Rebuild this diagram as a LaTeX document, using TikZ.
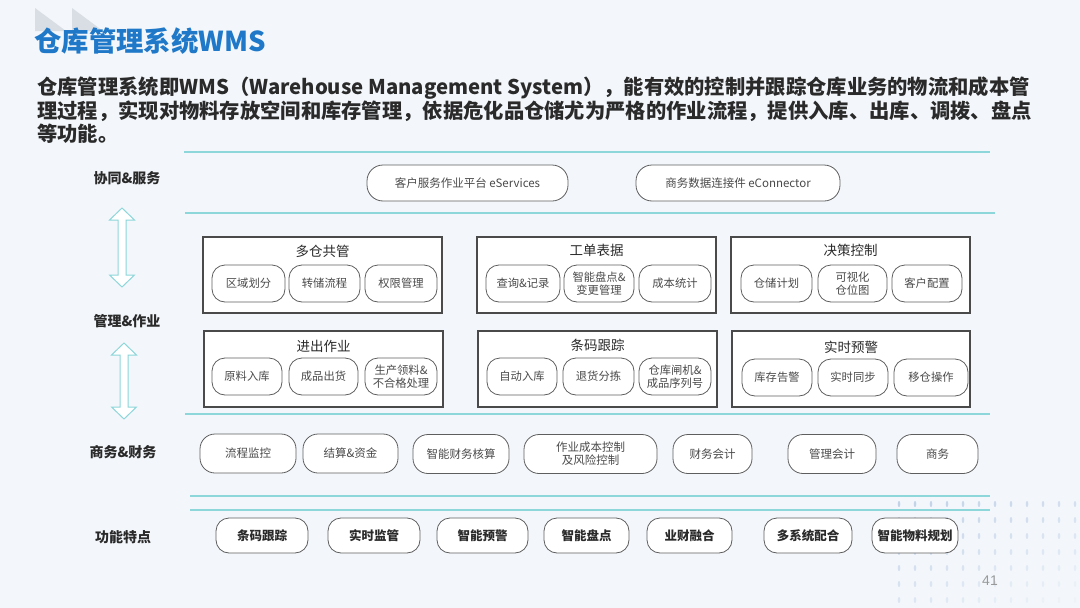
\documentclass[tikz,border=0pt]{standalone}
\usepackage{fontspec}
\setmainfont{Noto Sans CJK SC}
\newfontfamily\latinsans{Liberation Sans}
\definecolor{bgc}{HTML}{F3F7FB}
\definecolor{teal}{HTML}{8DD6DA}
\definecolor{titleblue}{HTML}{1F78C8}
\definecolor{boxline}{HTML}{4A4A4A}
\definecolor{pillline}{HTML}{5E5E5E}
\definecolor{txt}{HTML}{4A4A4A}
\definecolor{dark}{HTML}{2A2A2A}
\definecolor{deco}{HTML}{D9DEE4}
\definecolor{dotc}{HTML}{9DB6DA}
\begin{document}
\begin{tikzpicture}[x=1pt,y=-1pt,
  pill/.style={draw=pillline, line width=0.8pt, fill=white, rounded corners=13pt,
     minimum height=37pt, inner sep=1pt, align=center, text=txt,
     font=\fontsize{11.3}{12.8}\selectfont},
  bigpill/.style={pill, minimum height=39pt, rounded corners=15pt, font=\fontsize{11.5}{13}\selectfont},
  featpill/.style={pill, minimum height=35pt, rounded corners=13pt, text=dark,
     font=\fontsize{12.5}{14}\selectfont\bfseries},
  toppill/.style={pill, minimum height=36pt, rounded corners=16pt, font=\fontsize{11.5}{13}\selectfont},
  group/.style={draw=boxline, line width=1.1pt, fill=white, minimum height=76pt, minimum width=239pt, inner sep=0pt},
  gtitle/.style={text=dark, font=\fontsize{13.5}{15}\selectfont},
  side/.style={text=dark, font=\fontsize{14}{16}\selectfont\bfseries},
  sep/.style={draw=teal, line width=1.3pt},
  dbl/.style={draw=teal, line width=1pt, fill=white, line join=miter},
  para/.style={anchor=west, inner sep=0pt, text=dark, font=\fontsize{20.3}{23}\selectfont\bfseries}
]
\useasboundingbox (0,0) rectangle (1080,608);
\fill[bgc] (0,0) rectangle (1080,608);
% dotted decoration bottom-right
\foreach \i in {0,...,11}{
  \foreach \j in {0,...,6}{
    \pgfmathsetmacro{\op}{0.05+0.05*\j+0.02*\i}
    \fill[dotc, opacity=\op] (1075-\i*16, 600-\j*16) ellipse (1.3pt and 3pt);
  }
}
% top-left decoration
\fill[deco] (35,8) -- (35,31) -- (66,31) -- cycle;
\fill[deco] (72,8) -- (72,31) -- (103,31) -- cycle;
% title
\node[anchor=west, inner sep=0pt, text=titleblue, font=\fontsize{27.4}{29}\selectfont\bfseries] (title) at (34,41) {仓库管理系统WMS};
% paragraph
\node[para] (p1) at (37,88) {仓库管理系统即WMS（Warehouse Management System），能有效的控制并跟踪仓库业务的物流和成本管};
\node[para] (p2) at (37,111) {理过程，实现对物料存放空间和库存管理，依据危化品仓储尤为严格的作业流程，提供入库、出库、调拨、盘点};
\node[para] (p3) at (37,134) {等功能。};
% separator lines
\draw[sep] (184,152) -- (990,152);
\draw[sep] (185,213) -- (995,213);
\draw[sep] (185,414) -- (990,414);
\draw[sep] (190,496) -- (990,496);
\draw[sep] (190,510) -- (990,510);
% side labels
\node[side] (l1) at (127,178) {协同\&服务};
\node[side] (l2) at (127,321) {管理\&作业};
\node[side] (l3) at (123,452) {商务\&财务};
\node[side] (l4) at (123,537) {功能特点};
% double arrows
\draw[dbl] (122,208) -- (134.5,220) -- (126,220) -- (126,275) -- (134.5,275) -- (122,287) -- (109.5,275) -- (118,275) -- (118,220) -- (109.5,220) -- cycle;
\draw[dbl] (124,343) -- (136.5,355) -- (128,355) -- (128,407) -- (136.5,407) -- (124,419) -- (111.5,407) -- (120,407) -- (120,355) -- (111.5,355) -- cycle;
% top pills
\node[toppill, minimum width=201pt] (es) at (467.5,183) {客户服务作业平台 eServices};
\node[toppill, minimum width=204pt] (ec) at (738,183) {商务数据连接件 eConnector};
% groups row 1
\node[group] (g1) at (322.5,275) {};
\node[group] (g2) at (596.5,275) {};
\node[group] (g3) at (850.5,275) {};
\node[gtitle] (g1t) at (322.5,251) {多仓共管};
\node[gtitle] (g2t) at (596.5,250) {工单表据};
\node[gtitle] (g3t) at (850.5,250) {决策控制};
\node[pill, minimum width=73pt] (a1) at (248.5,283.5) {区域划分};
\node[pill, minimum width=71pt] (a2) at (324.5,283.5) {转储流程};
\node[pill, minimum width=72pt] (a3) at (401,283.5) {权限管理};
\node[pill, minimum width=74pt] (b1) at (523,283.5) {查询\&记录};
\node[pill, minimum width=70pt] (b2) at (599,283.5) {智能盘点\&\\变更管理};
\node[pill, minimum width=72pt] (b3) at (675,283.5) {成本统计};
\node[pill, minimum width=71pt] (c1) at (776.5,283.5) {仓储计划};
\node[pill, minimum width=69pt] (c2) at (852.5,283.5) {可视化\\仓位图};
\node[pill, minimum width=70pt] (c3) at (927,283.5) {客户配置};
% groups row 2
\node[group] (h1) at (323.5,369) {};
\node[group] (h2) at (597.5,369) {};
\node[group, minimum width=238pt] (h3) at (851,369) {};
\node[gtitle] (h1t) at (323.5,346) {进出作业};
\node[gtitle] (h2t) at (597.5,345) {条码跟踪};
\node[gtitle] (h3t) at (851,347) {实时预警};
\node[pill, minimum width=70pt] (d1) at (247,376.5) {原料入库};
\node[pill, minimum width=69pt] (d2) at (323.5,376.5) {成品出货};
\node[pill, minimum width=72pt] (d3) at (401,376.5) {生产领料\&\\不合格处理};
\node[pill, minimum width=70pt] (e1) at (522,376.5) {自动入库};
\node[pill, minimum width=71pt] (e2) at (598.5,376.5) {退货分拣};
\node[pill, minimum width=72pt] (e3) at (675,376.5) {仓库闸机\&\\成品序列号};
\node[pill, minimum width=70pt] (f1) at (777,377.5) {库存告警};
\node[pill, minimum width=70pt] (f2) at (853,377.5) {实时同步};
\node[pill, minimum width=74pt] (f3) at (931,377.5) {移仓操作};
% business & finance
\node[bigpill, minimum width=96pt] (m1) at (248,453.5) {流程监控};
\node[bigpill, minimum width=95pt] (m2) at (350.5,453.5) {结算\&资金};
\node[bigpill, minimum width=96pt] (m3) at (461,454) {智能财务核算};
\node[bigpill, minimum width=133pt] (m4) at (590.5,454) {作业成本控制\\及风险控制};
\node[bigpill, minimum width=79pt] (m5) at (712.5,454) {财务会计};
\node[bigpill, minimum width=88pt] (m6) at (832,454) {管理会计};
\node[bigpill, minimum width=81pt] (m7) at (937.5,454) {商务};
% features
\node[featpill, minimum width=92pt] (k1) at (262,535.5) {条码跟踪};
\node[featpill, minimum width=92pt] (k2) at (374,535.5) {实时监管};
\node[featpill, minimum width=91pt] (k3) at (482.5,535.5) {智能预警};
\node[featpill, minimum width=85pt] (k4) at (586.5,535.5) {智能盘点};
\node[featpill, minimum width=85pt] (k5) at (689.5,535.5) {业财融合};
\node[featpill, minimum width=88pt] (k6) at (808,535.5) {多系统配合};
\node[featpill, minimum width=86pt] (k7) at (915,535.5) {智能物料规划};
% page number
\node[text=gray!80, font=\latinsans\fontsize{14}{16}\selectfont] (pg) at (990,581) {41};
\end{tikzpicture}
\end{document}
